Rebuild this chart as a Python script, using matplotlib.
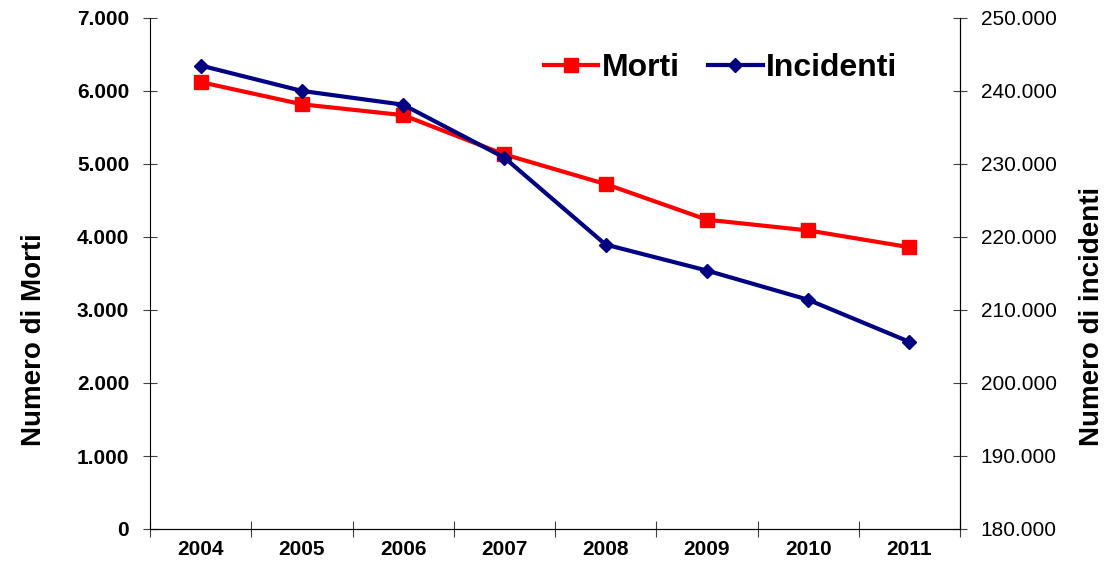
import matplotlib.pyplot as plt
from matplotlib.ticker import FuncFormatter, MultipleLocator, FixedLocator

plt.rcParams['font.family'] = ['Liberation Sans', 'DejaVu Sans']

# Data
anni = ['2004', '2005', '2006', '2007', '2008', '2009', '2010', '2011']
morti = [6122, 5818, 5669, 5131, 4725, 4237, 4090, 3860]
incidenti = [243490, 240011, 238124, 230871, 218963, 215405, 211404, 205638]

def thousands(v, pos):
    return f"{int(round(v)):,}".replace(",", ".")

fig = plt.figure(figsize=(11.06, 5.66), dpi=100)
ax = fig.add_axes([150 / 1106, 37 / 566, 810 / 1106, 511 / 566])
ax2 = ax.twinx()

x = list(range(len(anni)))
l1, = ax.plot(x, morti, color='#FF0000', lw=3, marker='s', ms=10, label='Morti')
l2, = ax2.plot(x, incidenti, color='#000080', lw=3, marker='D', ms=7, label='Incidenti')

ax.set_xlim(-0.5, len(anni) - 0.5)
ax.set_ylim(0, 7000)
ax2.set_ylim(180000, 250000)
ax.yaxis.set_major_locator(MultipleLocator(1000))
ax2.yaxis.set_major_locator(MultipleLocator(10000))
ax.yaxis.set_major_formatter(FuncFormatter(thousands))
ax2.yaxis.set_major_formatter(FuncFormatter(thousands))

# category axis: ticks between years, labels centred
ax.xaxis.set_major_locator(FixedLocator([i - 0.5 for i in range(len(anni) + 1)]))
ax.xaxis.set_minor_locator(FixedLocator(x))
ax.set_xticklabels([])
ax.set_xticklabels(anni, minor=True, fontweight='bold', fontsize=15)
ax.tick_params(axis='x', which='major', direction='inout', length=12, color='#404040')
ax.tick_params(axis='x', which='minor', length=0, pad=8)

ax.tick_params(axis='y', direction='inout', length=10, color='#404040', labelsize=15, pad=10)
for t in ax.get_yticklabels():
    t.set_fontweight('bold')
ax2.tick_params(axis='y', direction='inout', length=10, color='#404040', labelsize=15, pad=10)

for a in (ax, ax2):
    a.spines['top'].set_visible(False)
ax2.spines['left'].set_visible(False)

ax.set_ylabel('Numero di Morti', fontdict={'size': 20, 'weight': 'bold'})
ax.yaxis.set_label_coords(-0.127, 0.37)
ax2.set_ylabel('Numero di incidenti', fontdict={'size': 20, 'weight': 'bold'}, rotation=90)
ax2.yaxis.set_label_coords(1.147, 0.416)

fig.legend(handles=[l1, l2], loc='upper right', bbox_to_anchor=(913 / 1106, 1 - 37 / 566),
           ncol=2, frameon=False, prop={'weight': 'bold', 'size': 23},
           handlelength=1.7, handletextpad=0.1, columnspacing=0.9, borderpad=0)

fig.savefig('out.png', dpi=100)
